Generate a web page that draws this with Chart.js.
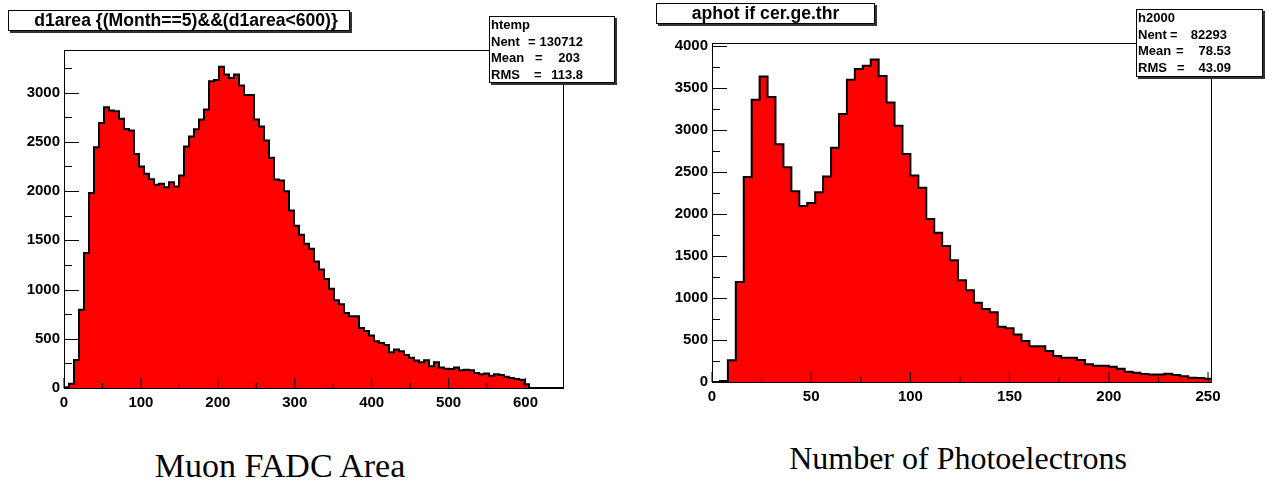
<!DOCTYPE html>
<html>
<head>
<meta charset="utf-8">
<script src="https://cdn.jsdelivr.net/npm/chart.js@4/dist/chart.umd.min.js"></script>
<style>
  body { margin: 0; background: #fff; width: 1267px; height: 483px; position: relative; overflow: hidden; font-family: 'Liberation Sans', Arial, sans-serif; }
  canvas { position: absolute; top: 0; }
  .title { position: absolute; box-sizing: border-box; height: 21px; border: 1px solid #000; background: #fff; box-shadow: 2px 2px 0 #333; font-weight: bold; font-size: 17.6px; text-align: center; line-height: 19px; white-space: pre; }
  .stats { position: absolute; box-sizing: border-box; border: 1px solid #000; background: #fff; box-shadow: 2px 2px 0 #333; font-weight: bold; font-size: 13px; }
  .stats div { position: relative; height: 16.5px; line-height: 16.5px; }
  .stats span { position: absolute; top: 0; white-space: pre; }
  .caption { position: absolute; font-family: 'Liberation Serif', 'Times New Roman', serif; line-height: 1; white-space: nowrap; transform: translateX(-50%); }
</style>
</head>
<body>
<canvas id="left" width="640" height="440" style="left:0"></canvas>
<canvas id="right" width="627" height="440" style="left:640px"></canvas>

<div class="title" style="left:8px; top:10px; width:342px; padding-left:14px">d1area {(Month==5)&amp;&amp;(d1area&lt;600)}</div>
<div class="title" style="left:656px; top:3px; width:219px">aphot if cer.ge.thr</div>
<div class="stats" id="statsLeft" style="left:489px; top:16px; width:126px; height:67px"></div>
<div class="stats" id="statsRight" style="left:1136px; top:9px; width:127px; height:68px"></div>

<div class="caption" style="left:280px; top:449px; font-size:34px">Muon FADC Area</div>
<div class="caption" style="left:958px; top:442px; font-size:32px">Number of Photoelectrons</div>

<script>
// d1area, 100 bins of 6.5 from 0 to 650
const areaBinWidth = 6.5
const areaCounts = [
  8, 44, 285, 795, 1370, 1980, 2445, 2692, 2851, 2817,
  2810, 2733, 2631, 2614, 2377, 2249, 2175, 2120, 2063, 2073,
  2039, 2090, 2046, 2158, 2452, 2553, 2628, 2726, 2827, 3115,
  3128, 3263, 3182, 3148, 3182, 3071, 2976, 2976, 2726, 2655,
  2513, 2337, 2117, 2107, 1999, 1803, 1647, 1556, 1464, 1415,
  1285, 1203, 1108, 1009, 891, 850, 762, 728, 728, 610,
  579, 532, 474, 457, 437, 362, 390, 373, 335, 308,
  278, 261, 281, 220, 261, 207, 196, 193, 207, 180,
  186, 180, 152, 139, 146, 125, 139, 132, 115, 102,
  91, 85, 37, 0, 0, 0, 0, 0, 0, 0
]
const areaXMax = 650
const areaYMax = 3432
const areaXTicks = [0, 100, 200, 300, 400, 500, 600]
const areaXMinor = [50, 150, 250, 350, 450, 550]
const areaYTicks = [0, 500, 1000, 1500, 2000, 2500, 3000]
const areaYMinor = [250, 750, 1250, 1750, 2250, 2750, 3250]
const areaStats = [['htemp'], ['Nent', '130712'], ['Mean', '203'], ['RMS', '113.8']]

// aphot, 63 bins of 4 from 0 to 252
const pheBinWidth = 4
const pheCounts = [
  0, 12, 258, 1191, 2442, 3364, 3642, 3396, 2832, 2558,
  2272, 2097, 2133, 2260, 2450, 2792, 3193, 3602, 3729, 3769,
  3844, 3646, 3332, 3054, 2716, 2462, 2315, 1942, 1779, 1620,
  1450, 1212, 1094, 943, 871, 832, 657, 641, 565, 489,
  426, 426, 370, 310, 290, 290, 263, 211, 195, 195,
  183, 159, 123, 111, 96, 88, 88, 99, 84, 68,
  52, 48, 40
]
const pheXMax = 252
const pheYMax = 4040
const pheXTicks = [0, 50, 100, 150, 200, 250]
const pheXMinor = [25, 75, 125, 175, 225]
const pheYTicks = [0, 500, 1000, 1500, 2000, 2500, 3000, 3500, 4000]
const pheYMinor = [250, 750, 1250, 1750, 2250, 2750, 3250, 3750]
const pheStats = [['h2000'], ['Nent', '82293'], ['Mean', '78.53'], ['RMS', '43.09']]

const labelFont = { family: "'Liberation Sans', Arial, sans-serif", size: 15, weight: 'bold' }

// step outline: start on the axis, one point per bin low edge, close back on the axis
const histPoints = (counts, width) => {
  const pts = [{ x: 0, y: 0 }]
  counts.forEach((c, i) => pts.push({ x: i * width, y: c }))
  pts.push({ x: counts.length * width, y: 0 })
  return pts
}

// frame with ROOT-style ticks pointing into the pad
const rootFrame = {
  id: 'rootFrame',
  afterDatasetsDraw (chart, args, opts) {
    const { ctx, chartArea: a, scales: { x, y } } = chart
    ctx.save()
    ctx.strokeStyle = '#000'
    ctx.lineWidth = 1
    ctx.strokeRect(Math.round(a.left) + 0.5, Math.round(a.top) + 0.5, Math.round(a.width) - 1, Math.round(a.height))
    ctx.beginPath()
    opts.xMajor.forEach(v => { const px = x.getPixelForValue(v); ctx.moveTo(px, a.bottom); ctx.lineTo(px, a.bottom - 10) })
    opts.xMinor.forEach(v => { const px = x.getPixelForValue(v); ctx.moveTo(px, a.bottom); ctx.lineTo(px, a.bottom - 5) })
    opts.yMajor.forEach(v => { const py = Math.round(y.getPixelForValue(v)) + 0.5; ctx.moveTo(a.left, py); ctx.lineTo(a.left + 15, py) })
    opts.yMinor.forEach(v => { const py = Math.round(y.getPixelForValue(v)) + 0.5; ctx.moveTo(a.left, py); ctx.lineTo(a.left + 8, py) })
    ctx.stroke()
    ctx.restore()
  }
}

const makeHist = (id, counts, binWidth, xMax, yMax, xTicks, xMinor, yTicks, yMinor, yAxisWidth, padding) => {
  return new Chart(document.getElementById(id), {
    type: 'line',
    data: {
      datasets: [{
        data: histPoints(counts, binWidth),
        stepped: true,
        fill: 'origin',
        backgroundColor: '#ff0000',
        borderColor: '#000',
        borderWidth: 2,
        pointRadius: 0,
        tension: 0
      }]
    },
    options: {
      responsive: false,
      animation: false,
      devicePixelRatio: 1,
      layout: { padding },
      scales: {
        x: {
          type: 'linear',
          min: 0,
          max: xMax,
          grid: { display: false, drawTicks: false },
          border: { display: false },
          ticks: { color: '#000', font: labelFont, padding: 6, maxRotation: 0, autoSkip: false, callback: v => String(v) },
          afterBuildTicks: s => { s.ticks = xTicks.map(v => ({ value: v })) },
          afterFit: s => { s.height = 40 }
        },
        y: {
          type: 'linear',
          min: 0,
          max: yMax,
          grid: { display: false, drawTicks: false },
          border: { display: false },
          ticks: { color: '#000', font: labelFont, padding: 4, autoSkip: false, callback: v => String(v) },
          afterBuildTicks: s => { s.ticks = yTicks.map(v => ({ value: v })) },
          afterFit: s => { s.width = yAxisWidth }
        }
      },
      plugins: {
        legend: { display: false },
        tooltip: { enabled: false },
        rootFrame: { xMajor: xTicks, xMinor, yMajor: yTicks, yMinor }
      }
    },
    plugins: [rootFrame]
  })
}

makeHist('left', areaCounts, areaBinWidth, areaXMax, areaYMax, areaXTicks, areaXMinor, areaYTicks, areaYMinor,
  64, { left: 0, top: 50, right: 76, bottom: 12 })
makeHist('right', pheCounts, pheBinWidth, pheXMax, pheYMax, pheXTicks, pheXMinor, pheYTicks, pheYMinor,
  72, { left: 0, top: 43, right: 55, bottom: 18 })

// stats box rows: name, "=" and right-aligned value
const fillStats = (id, rows, eqX, valRight) => {
  const box = document.getElementById(id)
  rows.forEach((row, i) => {
    const line = document.createElement('div')
    const name = document.createElement('span')
    name.textContent = row[0]
    name.style.left = '1px'
    line.appendChild(name)
    if (row.length > 1) {
      const eq = document.createElement('span')
      eq.textContent = '='
      eq.style.left = eqX[i - 1] + 'px'
      const val = document.createElement('span')
      val.textContent = row[1]
      val.style.right = (box.clientWidth - valRight[i - 1]) + 'px'
      line.appendChild(eq)
      line.appendChild(val)
    }
    box.appendChild(line)
  })
}
fillStats('statsLeft', areaStats, [38, 45, 44], [93, 90, 93])
fillStats('statsRight', pheStats, [33, 39, 40], [90, 94, 94])
</script>
</body>
</html>
